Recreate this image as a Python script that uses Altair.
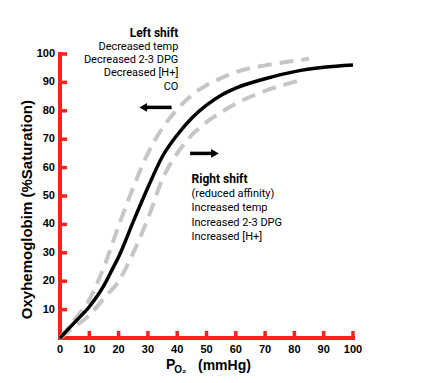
import altair as alt
import pandas as pd

# ---- data ----
po2_normal = [0, 5, 10, 15, 18, 20, 25, 30, 35, 40, 45, 50, 55, 60, 70, 80, 90, 100]
sat_normal = [0, 5.5, 11, 18.5, 24.5, 28.5, 41, 53, 64, 71.5, 77.5, 82, 85.5, 88, 91.3, 93.8, 95.3, 96.1]

po2_left = [0, 5, 10, 15, 20, 25, 30, 35, 40, 45, 50, 55, 60, 70, 80, 85]
sat_left = [0, 6.5, 13.5, 25, 39.5, 53, 65, 74, 80.5, 85.5, 89, 91.5, 93.6, 96, 97.6, 98.3]

po2_right = [0, 5, 10, 15, 20, 25, 30, 35, 40, 45, 50, 55, 60, 70, 80, 82]
sat_right = [0, 4, 8, 14, 20, 30, 42, 56, 65, 71.5, 76, 79.5, 82.5, 87, 90.2, 90.8]

x_ticks = [0, 10, 20, 30, 40, 50, 60, 70, 80, 90, 100]
y_ticks = [10, 20, 30, 40, 50, 60, 70, 80, 90, 100]

y_title = "Oxyhemoglobim  (%Saturation)"
left_header = "Left shift"
left_lines = ["Decreased temp", "Decreased 2-3 DPG", "Decreased [H+]", "CO"]
right_header = "Right shift"
right_lines = ["(reduced affinity)", "Increased temp", "Increased 2-3 DPG", "Increased [H+]"]

# annotation anchors (data units)
left_anchor = (40.4, 107.3)
left_step = 4.72
right_anchor = (44.9, 55.9)
right_step = 5.1
y_title_pos = (-11.3, 45.2)

left_arrow = {"x": 28.4, "x2": 38.1, "y": 81.2}
right_arrow = {"x": 44.4, "x2": 52.9, "y": 65.0}

x_title_parts = [
    {"t": "P", "x": 36.2, "y": -11.0, "size": 14},
    {"t": "O\u2082", "x": 39.0, "y": -12.2, "size": 10},
    {"t": "(mmHg)", "x": 47.1, "y": -11.2, "size": 14},
]

W, H = 293, 284
RED = "#ff1f1f"
GRAY = "#c6c6c6"
FONT = "Liberation Sans"
TXT = "Roboto"
TICK_X = 7 / W * 100   # inward tick length in data units
TICK_Y = 7 / H * 100

xs = alt.Scale(domain=[0, 100], nice=False, zero=False)
ys = alt.Scale(domain=[0, 100], nice=False, zero=False)


def plain(df):
    return alt.Chart(df).encode(x=alt.X("x:Q", scale=xs, axis=None),
                                y=alt.Y("y:Q", scale=ys, axis=None))


def curve_df(xv, yv):
    return pd.DataFrame({"x": xv, "y": yv})


# ---- hand-built axes (red, inward ticks) ----
axis_lines = pd.DataFrame({"x": [0, 0], "x2": [100, 0], "y": [0, 0], "y2": [0, 100]})
tick_rows = ([{"x": v, "x2": v, "y": 0, "y2": TICK_Y} for v in x_ticks[1:]]
             + [{"x": 0, "x2": TICK_X, "y": v, "y2": v} for v in y_ticks])
ticks_df = pd.DataFrame(tick_rows)

domain = plain(axis_lines).mark_rule(color=RED, strokeWidth=4, strokeCap="square").encode(
    x2="x2:Q", y2="y2:Q")
ticks = plain(ticks_df).mark_rule(color=RED, strokeWidth=3.5).encode(x2="x2:Q", y2="y2:Q")

xl_df = pd.DataFrame({"x": x_ticks, "y": [0] * len(x_ticks), "t": [str(v) for v in x_ticks]})
yl_df = pd.DataFrame({"x": [0] * len(y_ticks), "y": y_ticks, "t": [str(v) for v in y_ticks]})
xlabels = plain(xl_df).mark_text(align="center", baseline="top", dy=6, font=FONT,
                                 fontWeight="bold", fontSize=11, color="black").encode(text="t:N")
ylabels = plain(yl_df).mark_text(align="right", baseline="middle", dx=-5, font=FONT,
                                 fontWeight="bold", fontSize=11, color="black").encode(text="t:N")
yt_df = pd.DataFrame({"x": [y_title_pos[0]], "y": [y_title_pos[1]], "t": [y_title]})
ytitle = plain(yt_df).mark_text(align="center", baseline="middle", angle=270, font=FONT,
                                fontWeight="bold", fontSize=15, color="black").encode(text="t:N")

# ---- curves ----
dash_left = plain(curve_df(po2_left, sat_left)).mark_line(
    color=GRAY, strokeWidth=4, strokeDash=[14, 8], interpolate="monotone")
dash_right = plain(curve_df(po2_right, sat_right)).mark_line(
    color=GRAY, strokeWidth=4, strokeDash=[14, 8], interpolate="monotone")
normal = plain(curve_df(po2_normal, sat_normal)).mark_line(
    color="black", strokeWidth=3.5, interpolate="monotone")

# ---- text blocks ----
lh = pd.DataFrame({"t": [left_header], "x": [left_anchor[0]], "y": [left_anchor[1]]})
lb = pd.DataFrame({"t": left_lines, "x": [left_anchor[0]] * len(left_lines),
                   "y": [left_anchor[1] - (i + 1) * left_step for i in range(len(left_lines))]})
rh = pd.DataFrame({"t": [right_header], "x": [right_anchor[0]], "y": [right_anchor[1]]})
rb = pd.DataFrame({"t": right_lines, "x": [right_anchor[0]] * len(right_lines),
                   "y": [right_anchor[1] - (i + 1) * right_step for i in range(len(right_lines))]})


def txt(df, align, weight, size):
    return plain(df).mark_text(align=align, baseline="middle", font=TXT, fontSize=size,
                               fontWeight=weight, color="black").encode(text="t:N")


texts = (txt(lh, "right", "bold", 12) + txt(lb, "right", "normal", 11)
         + txt(rh, "left", "bold", 12) + txt(rb, "left", "normal", 11))

# ---- arrows ----
la = pd.DataFrame([left_arrow])
ra = pd.DataFrame([right_arrow])
la_shaft = plain(la).mark_rule(color="black", strokeWidth=3.5).encode(x2="x2:Q")
la_head = plain(la).mark_point(shape="triangle-left", filled=True, color="black", size=80, opacity=1)
ra_shaft = plain(ra).mark_rule(color="black", strokeWidth=3.5).encode(x2="x2:Q")
ra_head = alt.Chart(ra).mark_point(shape="triangle-right", filled=True, color="black", size=80,
                                   opacity=1).encode(
    x=alt.X("x2:Q", scale=xs, axis=None), y=alt.Y("y:Q", scale=ys, axis=None))

# ---- x title parts ----
xt_df = pd.DataFrame(x_title_parts)
xtitle = alt.layer(*[
    plain(xt_df[xt_df["t"] == p["t"]]).mark_text(
        align="left", baseline="alphabetic", font=FONT, fontWeight="bold", fontSize=p["size"],
        color="black").encode(text="t:N")
    for p in x_title_parts
])

chart = alt.layer(
    domain, ticks, xlabels, ylabels, ytitle, dash_left, dash_right, normal, texts,
    la_shaft, la_head, ra_shaft, ra_head, xtitle
).properties(
    width=W, height=H,
    autosize=alt.AutoSizeParams(type="none"),
    padding={"left": 52, "top": 46, "right": 68, "bottom": 37},
).configure_view(stroke=None)

chart.save("out.html", embed_options={"renderer": "svg", "actions": False})
